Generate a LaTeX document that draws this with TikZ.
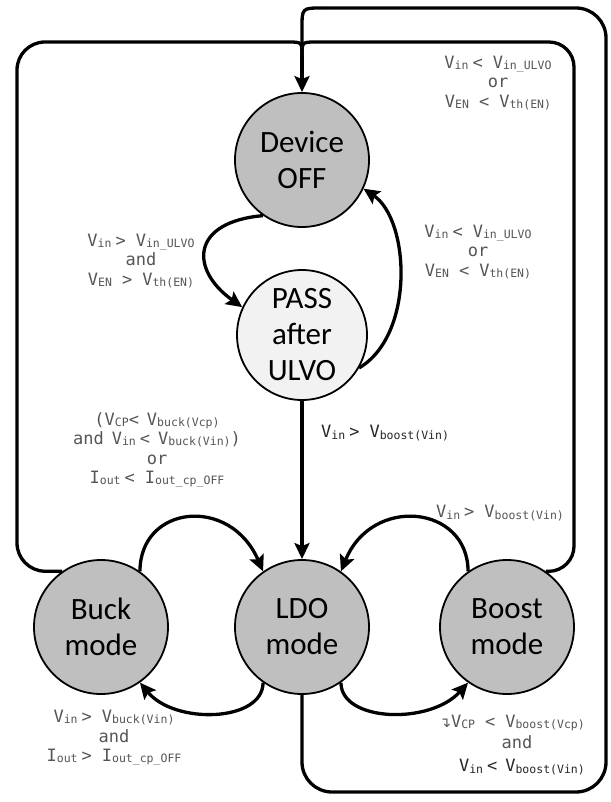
\documentclass[tikz,border=0pt]{standalone}
\usepackage{fontspec}
\setmainfont{Carlito}
\newfontfamily\lblfont{DejaVu Sans Mono}
\newfontfamily\symfont{DejaVu Sans}
\usetikzlibrary{arrows.meta}
\newcommand\lsb[1]{\raisebox{-1.2pt}{\fontsize{11.5}{11.5}\selectfont #1}}
\newcommand\gs{\hspace{4pt}}
\newcommand\gl{\hspace{10pt}}
\definecolor{lblgray}{HTML}{555555}
\definecolor{statefill}{HTML}{BFBFBF}
\definecolor{passfill}{HTML}{F2F2F2}
\begin{document}
\begin{tikzpicture}[x=1pt,y=-1pt,
 state/.style={circle,draw,line width=1.8pt,fill=statefill,minimum size=134pt,inner sep=0pt,align=center,font=\fontsize{31}{36}\selectfont},
 conn/.style={line width=3.3pt},
 arr/.style={conn,-{Stealth[length=16pt,width=15pt,inset=3pt]}},
 lbl/.style={align=center,font=\lblfont\fontsize{17}{19.5}\selectfont,text=lblgray,inner sep=0pt},
 lbldark/.style={lbl,text=black!85}]
\useasboundingbox (0,0) rectangle (610,802);
% states
\node[state] (off) at (302,160) {Device\\OFF};
\node[state,fill=passfill,minimum size=130pt] (pass) at (302,335) {PASS\\after\\ULVO};
\node[state] (buck) at (101,627) {Buck\\mode};
\node[state] (ldo) at (302,627) {LDO\\mode};
\node[state] (boost) at (507,627) {Boost\\mode};
% junction above Device OFF
\coordinate (j) at (302,56);
\coordinate (jl) at (288,42);
\coordinate (jr) at (316,42);
\coordinate (jt) at (322,8);
% left outer loop: Buck -> Device OFF
\draw[conn,rounded corners=28pt] (buck.125) -- (17,571) -- (17,42) -- (jl);
\draw[conn] (jl) .. controls (302,42) .. (j);
% right inner loop: Boost -> Device OFF
\draw[conn,rounded corners=25pt] (boost.55) -- (574,571) -- (574,42) -- (jr);
\draw[conn] (jr) .. controls (302,42) .. (j);
% big outer loop: LDO -> Device OFF
\draw[conn,rounded corners=30pt] (ldo.south) -- (302,792) -- (606,792) -- (606,8) -- (jt);
\draw[conn] (jt) .. controls (302,8) .. (302,28) -- (j);
\draw[arr] (j) -- (off.north);
% Device OFF <-> PASS
\draw[arr] (off.235) .. controls (190,222) and (190,270) .. (pass.155);
\draw[arr] (pass.-30) .. controls (415,335) and (410,220) .. (off.-25);
% PASS -> LDO
\draw[arr] (pass.south) -- (ldo.north);
% Buck/Boost -> LDO (top arcs)
\draw[arr] (buck.55) .. controls (140,505) and (230,495) .. (ldo.125);
\draw[arr] (boost.125) .. controls (468,505) and (372,495) .. (ldo.55);
% LDO -> Buck/Boost (bottom arcs)
\draw[arr] (ldo.235) .. controls (263,722) and (175,725) .. (buck.-55);
\draw[arr] (ldo.-55) .. controls (341,722) and (430,725) .. (boost.235);
% labels
\node[lbl] (l1) at (498,83) {V\lsb{in}\gs<\gl V\lsb{in\_ULVO}\\or\\V\lsb{EN}\gl<\gl V\lsb{th(EN)}};
\node[lbl] (l2) at (141,261) {V\lsb{in}\gs>\gl V\lsb{in\_ULVO}\\and\\V\lsb{EN}\gl>\gl V\lsb{th(EN)}};
\node[lbl] (l3) at (478,252) {V\lsb{in}\gs<\gl V\lsb{in\_ULVO}\\or\\V\lsb{EN}\gl<\gl V\lsb{th(EN)}};
\node[lbl] (l4) at (157,450) {(V\lsb{CP}<\hspace{8pt}V\lsb{buck(Vcp)}\\and\hspace{8pt}V\lsb{in}\gs<\hspace{8pt}V\lsb{buck(Vin)})\\or\\I\lsb{out}\gs<\gl I\lsb{out\_cp\_OFF}};
\node[lbldark,anchor=west] (l5) at (321,433) {V\lsb{in}\gs>\gl V\lsb{boost(Vin)}};
\node[lbl] (l6) at (500,513) {V\lsb{in}\gs>\gl V\lsb{boost(Vin)}};
\node[lbl] (l7) at (114,738) {V\lsb{in}\gs>\gl V\lsb{buck(Vin)}\\and\\I\lsb{out}\gs>\gl I\lsb{out\_cp\_OFF}};
\node[lbl,anchor=east] (l8a) at (585,723) {{\symfont\fontsize{14}{14}\selectfont ↴}V\lsb{CP}\gl<\gl V\lsb{boost(Vcp)}};
\node[lbl] (l8b) at (517,742) {and};
\node[lbldark,anchor=east] (l8c) at (585,767) {V\lsb{in}\gs<\hspace{8pt}V\lsb{boost(Vin)}};
\end{tikzpicture}
\end{document}
